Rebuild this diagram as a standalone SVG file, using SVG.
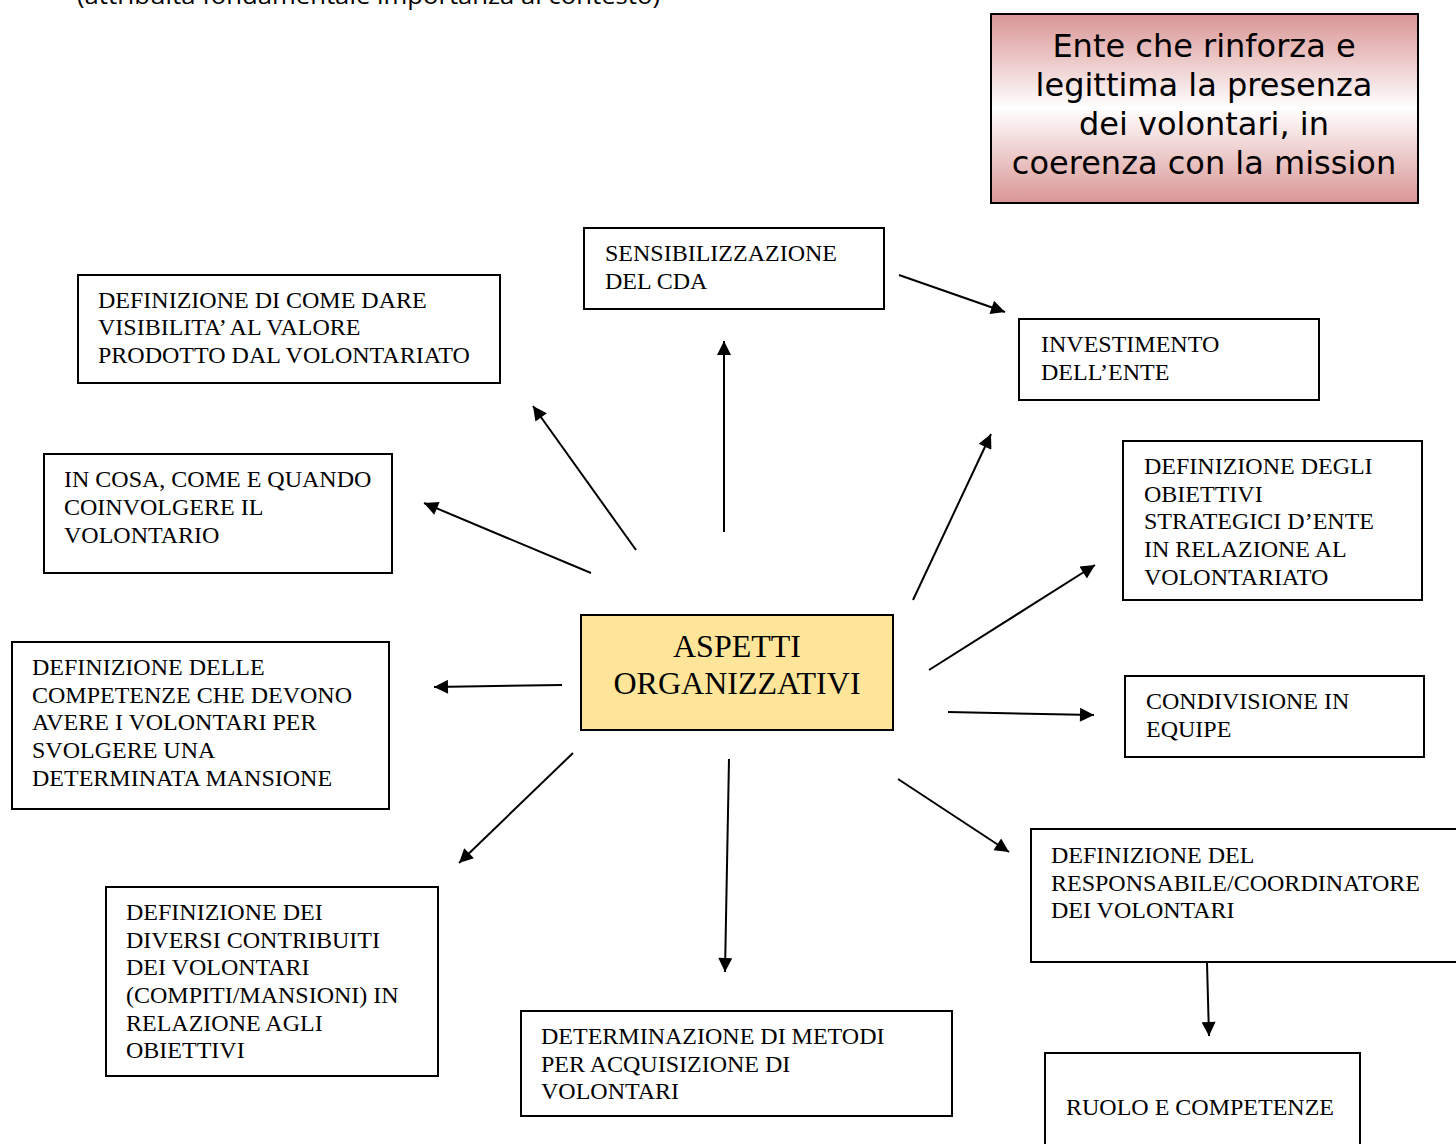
<svg xmlns="http://www.w3.org/2000/svg" width="1456" height="1144" viewBox="0 0 1456 1144">
<style>
.box{fill:#fff;stroke:#000;stroke-width:2}
.t{font-family:"Liberation Serif","Times New Roman",serif;font-size:24px;fill:#000}
.c{stroke:#000;stroke-width:2;fill:none;marker-end:url(#ah)}
</style>
<defs>
<marker id="ah" viewBox="0 0 10 10" refX="10" refY="5" markerWidth="8.5" markerHeight="7" orient="auto" markerUnits="strokeWidth">
<path d="M0,0 L10,5 L0,10 z" fill="#000"/>
</marker>
<linearGradient id="rg" x1="0" y1="0" x2="0" y2="1">
<stop offset="0" stop-color="#d99594"/>
<stop offset="0.5" stop-color="#ffffff"/>
<stop offset="1" stop-color="#d99594"/>
</linearGradient>
</defs>
<rect width="1456" height="1144" fill="#fff"/>
<text x="77" y="4" textLength="583" lengthAdjust="spacingAndGlyphs" style="font-family:'Open Sans','Liberation Sans',sans-serif;font-size:24px;fill:#000">(attribuita fondamentale importanza al contesto)</text>

<g id="ente">
<rect x="991" y="14" width="427" height="189" fill="url(#rg)" stroke="#000" stroke-width="2"/>
<g style="font-family:'DejaVu Sans',Verdana,sans-serif;font-size:32px;fill:#000" text-anchor="middle">
<text x="1204" y="57">Ente che rinforza e</text>
<text x="1204" y="96">legittima la presenza</text>
<text x="1204" y="135">dei volontari, in</text>
<text x="1204" y="174">coerenza con la mission</text>
</g>
</g>

<g id="aspetti">
<rect x="581" y="615" width="312" height="115" fill="#ffe599" stroke="#000" stroke-width="2"/>
<g class="t" style="font-size:32px" text-anchor="middle">
<text x="737" y="657">ASPETTI</text>
<text x="737" y="694">ORGANIZZATIVI</text>
</g>
</g>

<g id="sensibilizzazione">
<rect class="box" x="584" y="228" width="300" height="81"/>
<text class="t" x="605" y="261">SENSIBILIZZAZIONE</text>
<text class="t" x="605" y="289">DEL CDA</text>
</g>

<g id="investimento">
<rect class="box" x="1019" y="319" width="300" height="81"/>
<text class="t" x="1041" y="352">INVESTIMENTO</text>
<text class="t" x="1041" y="380">DELL’ENTE</text>
</g>

<g id="visibilita">
<rect class="box" x="78" y="275" width="422" height="108"/>
<text class="t" x="98" y="308">DEFINIZIONE DI COME DARE</text>
<text class="t" x="98" y="335">VISIBILITA’ AL VALORE</text>
<text class="t" x="98" y="363">PRODOTTO DAL VOLONTARIATO</text>
</g>

<g id="coinvolgere">
<rect class="box" x="44" y="454" width="348" height="119"/>
<text class="t" x="64" y="487">IN COSA, COME E QUANDO</text>
<text class="t" x="64" y="515">COINVOLGERE IL</text>
<text class="t" x="64" y="543">VOLONTARIO</text>
</g>

<g id="obiettivi">
<rect class="box" x="1123" y="441" width="299" height="159"/>
<text class="t" x="1144" y="474">DEFINIZIONE DEGLI</text>
<text class="t" x="1144" y="502">OBIETTIVI</text>
<text class="t" x="1144" y="529">STRATEGICI D’ENTE</text>
<text class="t" x="1144" y="557">IN RELAZIONE AL</text>
<text class="t" x="1144" y="585">VOLONTARIATO</text>
</g>

<g id="competenze">
<rect class="box" x="12" y="642" width="377" height="167"/>
<text class="t" x="32" y="675">DEFINIZIONE DELLE</text>
<text class="t" x="32" y="703">COMPETENZE CHE DEVONO</text>
<text class="t" x="32" y="730">AVERE I VOLONTARI PER</text>
<text class="t" x="32" y="758">SVOLGERE UNA</text>
<text class="t" x="32" y="786">DETERMINATA MANSIONE</text>
</g>

<g id="condivisione">
<rect class="box" x="1125" y="676" width="299" height="81"/>
<text class="t" x="1146" y="709">CONDIVISIONE IN</text>
<text class="t" x="1146" y="737">EQUIPE</text>
</g>

<g id="contributi">
<rect class="box" x="106" y="887" width="332" height="189"/>
<text class="t" x="126" y="920">DEFINIZIONE DEI</text>
<text class="t" x="126" y="948">DIVERSI CONTRIBUITI</text>
<text class="t" x="126" y="975">DEI VOLONTARI</text>
<text class="t" x="126" y="1003">(COMPITI/MANSIONI) IN</text>
<text class="t" x="126" y="1031">RELAZIONE AGLI</text>
<text class="t" x="126" y="1058">OBIETTIVI</text>
</g>

<g id="metodi">
<rect class="box" x="521" y="1011" width="431" height="105"/>
<text class="t" x="541" y="1044">DETERMINAZIONE DI METODI</text>
<text class="t" x="541" y="1072">PER ACQUISIZIONE DI</text>
<text class="t" x="541" y="1099">VOLONTARI</text>
</g>

<g id="responsabile">
<rect class="box" x="1031" y="829" width="440" height="133"/>
<text class="t" x="1051" y="863">DEFINIZIONE DEL</text>
<text class="t" x="1051" y="891">RESPONSABILE/COORDINATORE</text>
<text class="t" x="1051" y="918">DEI VOLONTARI</text>
</g>

<g id="ruolo">
<rect class="box" x="1045" y="1053" width="315" height="110"/>
<text class="t" x="1066" y="1115">RUOLO E COMPETENZE</text>
</g>

<g id="connectors">
<line class="c" x1="899" y1="275" x2="1005" y2="312"/>
<line class="c" x1="724" y1="532" x2="724" y2="341"/>
<line class="c" x1="636" y1="550" x2="533" y2="406"/>
<line class="c" x1="591" y1="573" x2="424" y2="503"/>
<line class="c" x1="562" y1="685" x2="434" y2="687"/>
<line class="c" x1="573" y1="753" x2="459" y2="863"/>
<line class="c" x1="729" y1="759" x2="725" y2="972"/>
<line class="c" x1="913" y1="600" x2="991" y2="434"/>
<line class="c" x1="929" y1="670" x2="1095" y2="565"/>
<line class="c" x1="948" y1="712" x2="1094" y2="715"/>
<line class="c" x1="898" y1="779" x2="1009" y2="852"/>
<line class="c" x1="1207" y1="963" x2="1209" y2="1036"/>
</g>
</svg>
